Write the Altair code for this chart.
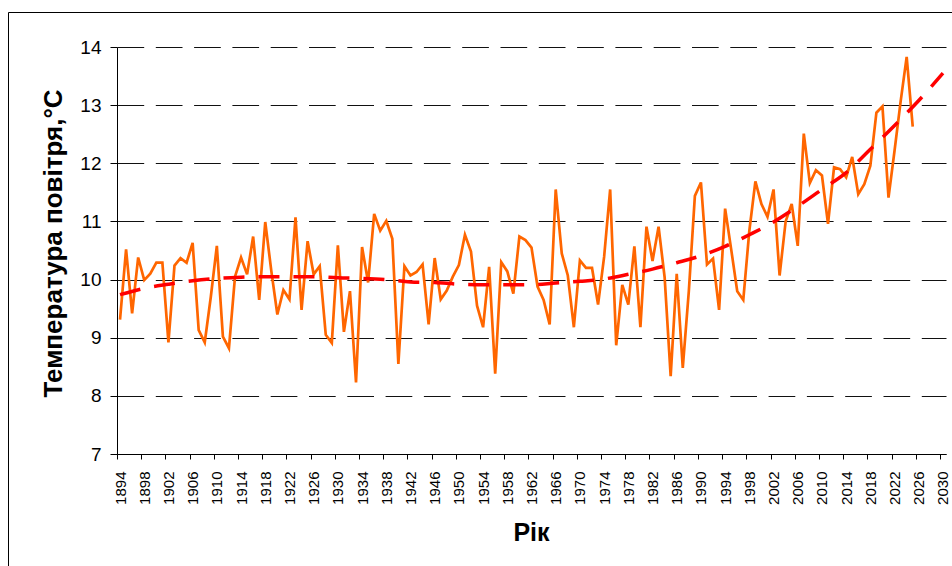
import altair as alt
import pandas as pd

# ---- data ----
years = list(range(1894, 2026))
temps = [
    9.31, 10.52, 9.42, 10.38, 9.99, 10.10, 10.29, 10.29, 8.92, 10.24,   # 1894-1903
    10.37, 10.29, 10.63, 9.13, 8.92, 9.70, 10.58, 9.02, 8.82, 10.05,    # 1904-1913
    10.38, 10.09, 10.74, 9.65, 10.99, 10.15, 9.40, 9.82, 9.66, 11.07,   # 1914-1923
    9.48, 10.66, 10.09, 10.23, 9.05, 8.91, 10.59, 9.10, 9.80, 8.23,     # 1924-1933
    10.56, 9.95, 11.13, 10.84, 11.01, 10.70, 8.55, 10.23, 10.07, 10.13, # 1934-1943
    10.26, 9.23, 10.37, 9.66, 9.81, 10.05, 10.25, 10.77, 10.48, 9.55,   # 1944-1953
    9.18, 10.22, 8.38, 10.30, 10.14, 9.76, 10.74, 10.68, 10.55, 9.88,   # 1954-1963
    9.65, 9.23, 11.55, 10.45, 10.07, 9.18, 10.33, 10.20, 10.20, 9.57,   # 1964-1973
    10.39, 11.55, 8.87, 9.91, 9.57, 10.57, 9.18, 10.91, 10.32, 10.91,   # 1974-1983
    10.04, 8.34, 10.10, 8.48, 9.80, 11.44, 11.67, 10.26, 10.36, 9.48,   # 1984-1993
    11.22, 10.52, 9.80, 9.65, 10.84, 11.69, 11.30, 11.08, 11.55, 10.07, # 1994-2003
    11.00, 11.30, 10.58, 12.51, 11.66, 11.88, 11.79, 10.96, 11.93, 11.90, # 2004-2013
    11.76, 12.11, 11.47, 11.64, 11.96, 12.87, 12.98, 11.41, 12.22, 13.06, # 2014-2023
    13.83, 12.63,                                                        # 2024-2025
]

trend_years = [1894, 1898, 1902, 1906, 1910, 1914, 1918, 1922, 1926, 1930,
               1934, 1938, 1942, 1946, 1950, 1954, 1958, 1962, 1966, 1970,
               1974, 1978, 1982, 1986, 1990, 1994, 1998, 2002, 2006, 2010,
               2014, 2018, 2022, 2026, 2030]
trend_vals = [9.74, 9.85, 9.92, 9.98, 10.02, 10.04, 10.05, 10.05, 10.05, 10.03,
              10.02, 10.00, 9.96, 9.95, 9.92, 9.91, 9.91, 9.91, 9.94, 9.97,
              10.01, 10.09, 10.18, 10.29, 10.41, 10.57, 10.77, 10.99, 11.26, 11.55,
              11.84, 12.24, 12.65, 13.08, 13.55]

tick_years = list(range(1894, 2031, 4))
y_ticks = [7, 8, 9, 10, 11, 12, 13, 14]

df = pd.DataFrame({"year": years, "temp": temps})
tdf = pd.DataFrame({"year": trend_years, "temp": trend_vals})

W, H = 829, 407
LEFT, TOP = 117, 47
FONT = "Liberation Sans"
HALF = W / 137 / 2

xscale = alt.Scale(domain=[1893.5, 2030.5], nice=False, zero=False)
yscale = alt.Scale(domain=[7, 14], nice=False, zero=False)

xaxis = alt.Axis(
    values=tick_years, format="d", labelAngle=270,
    labelFont=FONT, labelFontSize=15, labelColor="black",
    labelPadding=12, labelOverlap=False, labelFlush=False, labelBound=False,
    labelSeparation=0,
    tickSize=5, tickColor="black", tickWidth=1,
    tickOffset=-HALF, labelOffset=HALF,
    domainColor="black", domainWidth=1, grid=False,
    title="Рік", titleFont=FONT, titleFontSize=25, titleFontWeight="bold",
    titleColor="black", titleX=414, titleY=78,
    titleBaseline="middle", titleAlign="center",
)
yaxis = alt.Axis(
    values=y_ticks, format="d",
    labelFont=FONT, labelFontSize=19, labelColor="black", labelPadding=9,
    tickSize=7, tickColor="black", tickWidth=1,
    domainColor="black", domainWidth=1,
    grid=True, gridColor="#111111", gridWidth=1, gridDash=[26.7, 11.6],
    title="Температура повітря,°C", titleFont=FONT, titleFontSize=26,
    titleFontWeight="bold", titleColor="black",
    titleAngle=270, titleX=-64, titleY=196,
    titleBaseline="middle", titleAlign="center",
)

line = alt.Chart(df).mark_line(color="#FF6600", strokeWidth=2.7).encode(
    x=alt.X("year:Q", scale=xscale, axis=xaxis),
    y=alt.Y("temp:Q", scale=yscale, axis=yaxis),
)

trend = alt.Chart(tdf).mark_line(
    color="#FF0000", strokeWidth=3.5, strokeDash=[21, 14], interpolate="monotone"
).encode(
    x=alt.X("year:Q", scale=xscale, axis=xaxis),
    y=alt.Y("temp:Q", scale=yscale, axis=yaxis),
)

dummy = pd.DataFrame({"a": [0]})
border_left = alt.Chart(dummy).mark_rule(color="black", strokeWidth=1).encode(
    x=alt.value(-108.5), y=alt.value(-34.5), y2=alt.value(H + 150)
)
border_top = alt.Chart(dummy).mark_rule(color="black", strokeWidth=1).encode(
    x=alt.value(-108.5), x2=alt.value(W + 50), y=alt.value(-34.5)
)

chart = alt.layer(border_left, border_top, line, trend).properties(
    width=W, height=H,
    autosize=alt.AutoSizeParams(type="none"),
    padding={"left": LEFT, "top": TOP, "right": 952 - LEFT - W, "bottom": 566 - TOP - H},
    background="white",
).configure_view(stroke=None).configure_axis(labelOverlap=False)

chart.save("out.html", embed_options={"renderer": "svg", "actions": False})
